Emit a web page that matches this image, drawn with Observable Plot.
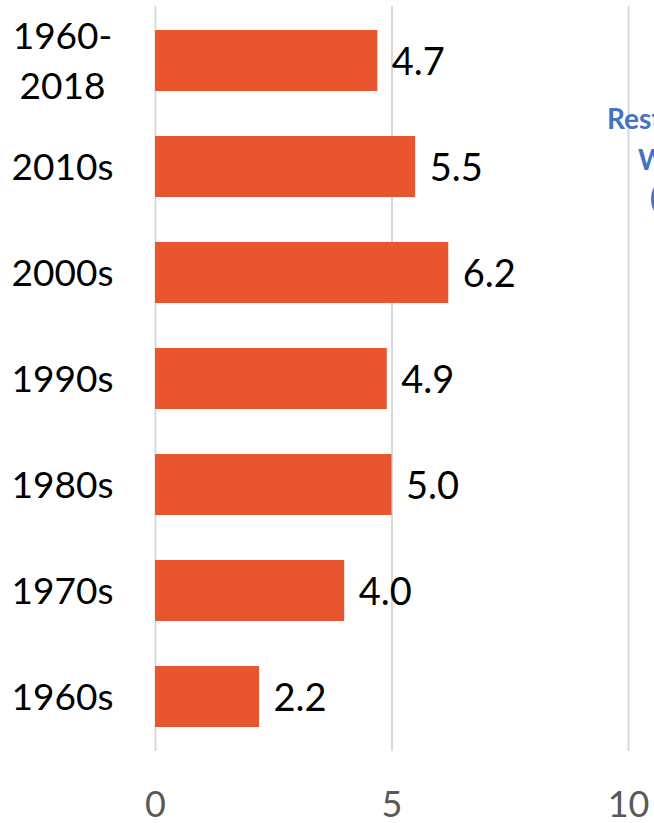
<!DOCTYPE html>
<html>
<head>
<meta charset="utf-8">
<script src="https://cdn.jsdelivr.net/npm/d3@7"></script>
<script src="https://cdn.jsdelivr.net/npm/@observablehq/plot@0.6"></script>
<style>
  html, body { margin: 0; padding: 0; background: #fff; overflow: hidden; width: 654px; height: 823px; }
  #wrap { position: relative; width: 654px; height: 823px; overflow: hidden; }
  .side { position: absolute; font-family: Lato, sans-serif; font-weight: bold; font-size: 28px; color: #4472C4; white-space: nowrap; line-height: 1; }
</style>
</head>
<body>
<div id="wrap">
  <div id="chart"></div>
  <div class="side" style="left:607px; top:104px;">Rest of the</div>
  <div class="side" style="left:638px; top:145px;">World</div>
  <div class="side" style="left:650px; top:183px;">(%)</div>
</div>
<script>
const periods = ["1960-\n2018", "2010s", "2000s", "1990s", "1980s", "1970s", "1960s"];
const values = [4.7, 5.5, 6.2, 4.9, 5.0, 4.0, 2.2];
const xTicks = [0, 5, 10];

const data = periods.map((p, i) => ({period: p, value: values[i]}));

const chart = Plot.plot({
  width: 654,
  height: 823,
  marginLeft: 155,
  marginRight: 26,
  marginTop: 6,
  marginBottom: 72,
  style: {fontFamily: "Lato, sans-serif", background: "white", overflow: "visible"},
  x: {domain: [0, 10], ticks: xTicks},
  y: {domain: periods, paddingInner: 0.42, paddingOuter: 0.21},
  marks: [
    Plot.ruleX(xTicks, {stroke: "#d9d9d9", strokeWidth: 2}),
    Plot.barX(data, {x: "value", y: "period", fill: "#E8552E"}),
    Plot.text(data, {x: "value", y: "period", text: d => d.value.toFixed(1), textAnchor: "start", dx: 14, dy: 2, fontSize: 38, fill: "#000"}),
    Plot.axisX({ticks: xTicks, tickSize: 0, tickPadding: 40, fontSize: 36, fill: "#595959", label: null}),
    Plot.axisY({tickSize: 0, tickPadding: 93, textAnchor: "middle", fontSize: 37, fill: "#000", label: null, lineHeight: 1.35, dy: -3})
  ]
});
document.getElementById("chart").appendChild(chart);
</script>
</body>
</html>
